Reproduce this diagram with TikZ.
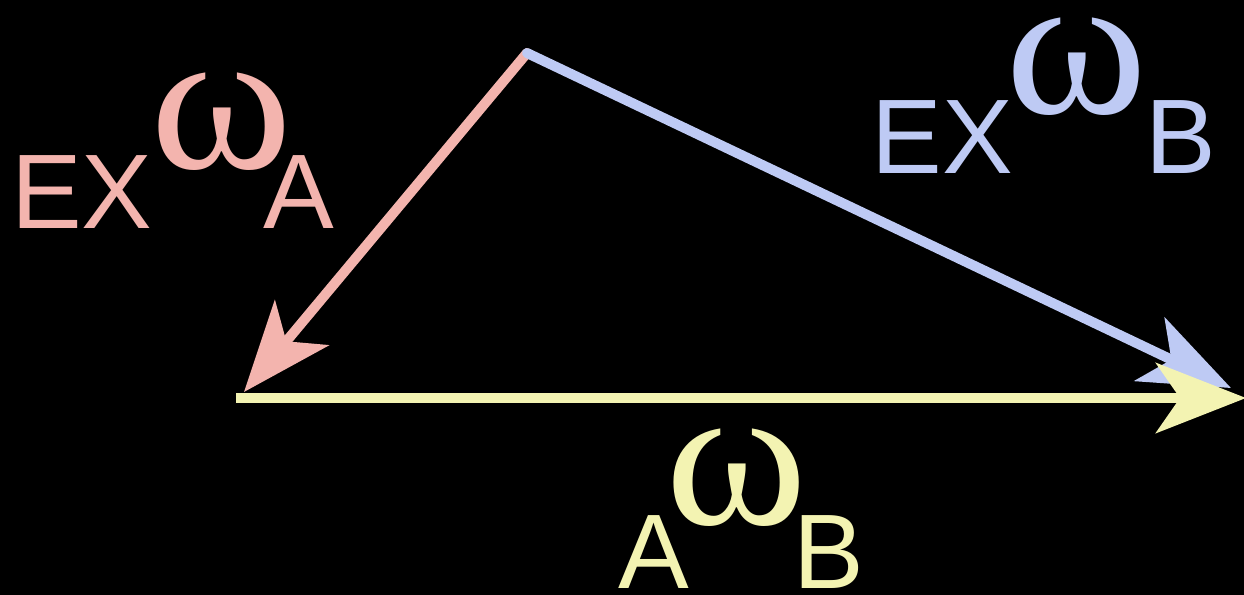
\documentclass[tikz,border=0pt]{standalone}
\usepackage{fontspec}
\setmainfont{Liberation Sans}
\newfontfamily\grk{Liberation Serif}
\usetikzlibrary{arrows.meta}
\definecolor{pinkc}{RGB}{243,180,174}
\definecolor{bluec}{RGB}{190,202,244}
\definecolor{yelc}{RGB}{243,243,178}
\newcommand{\bigomega}{\scalebox{1.08}[1.02]{ω}}
\begin{document}
\begin{tikzpicture}[x=0.5pt,y=-0.5pt,
  vec/.style={line width=5pt, -{Stealth[length=45pt,width=35pt,inset=12pt]}},
  letter/.style={inner sep=0pt, anchor=base, font=\fontsize{53pt}{60pt}\selectfont},
  omeg/.style={inner sep=0pt, anchor=base, font=\fontsize{100pt}{110pt}\selectfont\grk}]
\fill[black] (0,0) rectangle (1244,595);
\useasboundingbox (0,0) rectangle (1244,595);
\coordinate (top) at (527,53);
\coordinate (pa) at (244,392);
\coordinate (pb) at (1231,388);
\coordinate (ys) at (236,398);
\coordinate (ye) at (1246,398);
\draw[vec, pinkc, line cap=round] (top) -- (pa);
\draw[vec, bluec, line cap=round] (top) -- (pb);
\draw[vec, yelc] (ys) -- (ye);
% pink label
\node[letter, text=pinkc] (exa) at (82,228) {EX};
\node[omeg, text=pinkc] (wa) at (222,168) {\bigomega};
\node[letter, text=pinkc] (la) at (299,228) {A};
% blue label
\node[letter, text=bluec] (exb) at (942,173) {EX};
\node[omeg, text=bluec] (wb) at (1077,113) {\bigomega};
\node[letter, text=bluec] (lb) at (1181,173) {B};
% yellow label
\node[letter, text=yelc] (ya) at (654,588) {A};
\node[omeg, text=yelc] (yw) at (737,524) {\bigomega};
\node[letter, text=yelc] (yb) at (829,588) {B};
\end{tikzpicture}
\end{document}
